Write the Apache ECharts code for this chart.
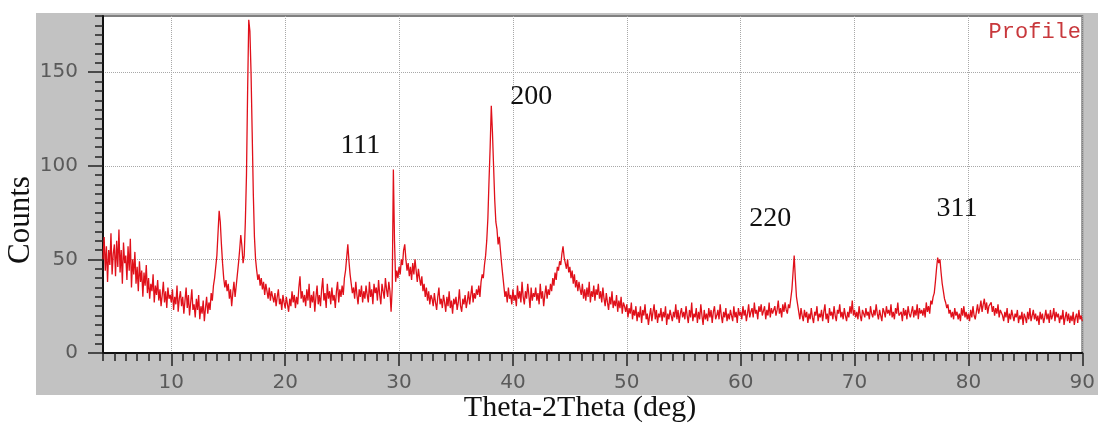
<!DOCTYPE html>
<html>
<head>
<meta charset="utf-8">
<script src="https://cdn.jsdelivr.net/npm/echarts@6/dist/echarts.min.js"></script>
<style>
  html, body { margin: 0; padding: 0; background: #fff; }
  #xrd { width: 1098px; height: 427px; }
</style>
</head>
<body>
<div id="xrd"></div>
<script>
// scan grid: 2theta from 4 to 90 deg, step 0.1
const angleStart = 4;
const angleStep = 0.1;
// counts, 10 points per degree
const counts = [
  50, 62, 44, 57, 38, 55, 47, 64, 42, 53,   // 4
  58, 41, 60, 46, 66, 43, 55, 37, 59, 48,   // 5
  52, 39, 57, 44, 61, 35, 50, 42, 54, 37,   // 6
  46, 33, 49, 38, 44, 30, 43, 36, 47, 32,   // 7
  40, 29, 37, 33, 42, 27, 36, 31, 39, 28,   // 8
  34, 25, 31, 38, 27, 33, 24, 35, 29, 31,   // 9
  27, 34, 23, 30, 26, 36, 22, 29, 33, 25,   // 10
  30, 21, 28, 35, 24, 31, 20, 27, 34, 23,   // 11
  26, 19, 29, 23, 31, 18, 25, 21, 28, 17,   // 12
  24, 30, 21, 27, 23, 32, 28, 36, 40, 46,   // 13
  52, 64, 76, 70, 58, 48, 40, 35, 39, 33,   // 14
  37, 29, 34, 25, 32, 38, 30, 36, 42, 48,   // 15
  55, 63, 57, 48, 52, 70, 95, 140, 178, 172, // 16
  150, 118, 85, 62, 50, 44, 39, 42, 36, 40, // 17
  34, 38, 31, 37, 33, 29, 35, 28, 33, 30,   // 18
  27, 32, 25, 30, 34, 26, 29, 23, 31, 27,   // 19
  24, 30, 26, 22, 29, 25, 33, 27, 31, 24,   // 20
  30, 26, 35, 41, 29, 33, 27, 31, 25, 34,   // 21
  28, 37, 24, 31, 27, 33, 22, 30, 36, 26,   // 22
  31, 25, 34, 40, 28, 32, 24, 37, 29, 33,   // 23
  26, 35, 28, 31, 24, 33, 38, 27, 34, 30,   // 24
  36, 31, 40, 44, 51, 58, 49, 42, 37, 32,   // 25
  35, 29, 38, 31, 26, 34, 30, 36, 27, 33,   // 26
  29, 36, 31, 27, 38, 30, 34, 26, 37, 32,   // 27
  35, 28, 39, 31, 26, 37, 33, 29, 40, 34,   // 28
  30, 38, 33, 22, 35, 98, 60, 38, 44, 40,   // 29
  46, 42, 50, 47, 55, 58, 50, 44, 48, 41,   // 30
  46, 39, 48, 42, 50, 44, 38, 45, 40, 36,   // 31
  41, 33, 37, 30, 35, 28, 33, 26, 31, 29,   // 32
  25, 32, 27, 23, 30, 35, 26, 29, 24, 31,   // 33
  27, 22, 30, 25, 33, 24, 28, 21, 29, 26,   // 34
  30, 23, 27, 34, 25, 22, 29, 26, 31, 24,   // 35
  28, 33, 26, 31, 36, 27, 32, 29, 34, 31,   // 36
  36, 30, 38, 42, 40, 47, 52, 60, 72, 92,   // 37
  110, 132, 118, 100, 82, 70, 66, 58, 62, 55, // 38
  48, 42, 36, 30, 33, 27, 35, 29, 31, 26,   // 39
  34, 28, 31, 25, 36, 29, 33, 27, 38, 30,   // 40
  26, 33, 29, 37, 31, 24, 35, 28, 32, 30,   // 41
  35, 28, 32, 26, 37, 29, 33, 25, 31, 36,   // 42
  29, 34, 31, 37, 33, 40, 36, 43, 39, 46,   // 43
  44, 49, 47, 53, 57, 51, 48, 45, 50, 43,   // 44
  46, 40, 44, 37, 42, 35, 39, 33, 38, 34,   // 45
  31, 37, 29, 34, 28, 35, 30, 38, 27, 33,   // 46
  30, 36, 28, 34, 31, 37, 29, 33, 27, 35,   // 47
  29, 25, 32, 27, 23, 30, 26, 33, 24, 28,   // 48
  25, 31, 22, 28, 24, 30, 21, 27, 25, 22,   // 49
  26, 19, 24, 21, 27, 18, 23, 20, 25, 17,   // 50
  22, 19, 25, 16, 23, 20, 26, 18, 21, 15,   // 51
  20, 24, 17, 22, 26, 18, 23, 16, 21, 19,   // 52
  24, 17, 22, 19, 25, 15, 21, 18, 23, 20,   // 53
  17, 22, 19, 26, 18, 23, 16, 21, 24, 19,   // 54
  22, 18, 25, 20, 16, 23, 19, 27, 17, 21,   // 55
  19, 24, 16, 22, 18, 26, 20, 15, 23, 18,   // 56
  21, 17, 24, 19, 23, 16, 22, 25, 18, 20,   // 57
  23, 18, 26, 20, 16, 22, 19, 24, 17, 21,   // 58
  18, 23, 20, 17, 25, 19, 22, 16, 24, 20,   // 59
  22, 18, 25, 20, 23, 17, 21, 26, 19, 22,   // 60
  24, 19, 27, 21, 23, 18, 25, 22, 26, 20,   // 61
  21, 25, 18, 23, 20, 27, 19, 24, 21, 22,   // 62
  25, 20, 23, 28, 21, 24, 19, 26, 22, 27,   // 63
  23, 21, 26, 24, 29, 34, 43, 52, 40, 30,   // 64
  26, 22, 18, 24, 20, 17, 23, 19, 22, 16,   // 65
  21, 18, 24, 19, 16, 22, 20, 25, 17, 21,   // 66
  19, 23, 17, 22, 26, 18, 21, 16, 24, 20,   // 67
  22, 18, 25, 20, 17, 23, 21, 26, 19, 22,   // 68
  18, 24, 20, 17, 22, 19, 25, 21, 28, 20,   // 69
  23, 19, 22, 18, 25, 20, 17, 23, 21, 19,   // 70
  24, 20, 22, 18, 25, 21, 19, 23, 20, 26,   // 71
  21, 18, 23, 20, 17, 24, 22, 19, 25, 21,   // 72
  23, 20, 26, 19, 22, 18, 24, 21, 27, 20,   // 73
  19, 22, 17, 24, 20, 23, 18, 25, 21, 19,   // 74
  22, 25, 19, 23, 20, 26, 18, 24, 21, 23,   // 75
  20, 24, 19, 27, 22, 25, 21, 28, 26, 30,   // 76
  32, 38, 45, 51, 48, 50, 43, 37, 33, 29,   // 77
  27, 24, 26, 21, 23, 19, 22, 18, 24, 20,   // 78
  22, 18, 21, 17, 24, 20, 25, 19, 22, 18,   // 79
  21, 17, 23, 19, 25, 20, 18, 22, 26, 21,   // 80
  24, 28, 22, 26, 29, 23, 27, 21, 25, 24,   // 81
  27, 22, 25, 20, 24, 21, 26, 19, 23, 22,   // 82
  20, 17, 22, 19, 24, 16, 21, 18, 23, 20,   // 83
  17, 21, 19, 23, 16, 20, 18, 22, 15, 21,   // 84
  19, 16, 22, 18, 24, 17, 20, 23, 18, 21,   // 85
  17, 20, 15, 22, 18, 21, 16, 19, 23, 18,   // 86
  21, 16, 23, 18, 20, 24, 17, 22, 19, 21,   // 87
  16, 20, 18, 23, 15, 19, 22, 17, 21, 16,   // 88
  20, 17, 22, 15, 19, 21, 16, 23, 18, 20,   // 89
  17                                        // 90
];

const xTicks = [10, 20, 30, 40, 50, 60, 70, 80, 90];
const yTicks = [0, 50, 100, 150];

// reflection labels (hkl) and where they sit in data units
const peakLabels = ['111', '200', '220', '311'];
const peakLabelAngles = [26.6, 41.6, 62.6, 79.0];
const peakLabelCounts = [111, 137, 72, 77];

const scan = counts.map((c, i) => [+(angleStart + i * angleStep).toFixed(1), c]);

const chart = echarts.init(document.getElementById('xrd'));
const option = {
  animation: false,
  backgroundColor: '#fff',
  grid: {
    left: 103, right: 10, top: 16, bottom: 74,
    show: true,
    backgroundColor: '#fff',
    borderColor: '#808080',
    borderWidth: 2
  },
  graphic: [
    { type: 'rect', z: -100, shape: { x: 36, y: 13, width: 1062, height: 382 }, style: { fill: '#c2c2c2' } },
    { type: 'text', x: 21, y: 220, rotation: Math.PI / 2,
      style: { text: 'Counts', font: '31px "Liberation Serif"', fill: '#111', align: 'center', verticalAlign: 'middle' } },
    { type: 'text', x: 580, y: 408,
      style: { text: 'Theta-2Theta (deg)', font: '30px "Liberation Serif"', fill: '#111', align: 'center', verticalAlign: 'middle' } },
    { type: 'text', x: 1081, y: 32,
      style: { text: 'Profile', font: '22px "Liberation Mono"', fill: '#c8383c', align: 'right', verticalAlign: 'middle' } }
  ],
  xAxis: [{
    type: 'value', min: 4, max: 90,
    axisLine: { lineStyle: { color: '#111', width: 2 } },
    axisTick: { customValues: xTicks, length: 13, lineStyle: { color: '#222', width: 1.5 } },
    axisLabel: { customValues: xTicks, margin: 20, fontSize: 20, fontFamily: 'DejaVu Sans', color: '#5a5a5a' },
    splitLine: { show: true, lineStyle: { color: '#a8a8a8', type: 'dotted', width: 1 } }
  }, {
    // minor ticks every degree
    type: 'value', min: 4, max: 90, interval: 1, position: 'bottom',
    axisLine: { show: false },
    axisTick: { length: 8, lineStyle: { color: '#222', width: 1.5 } },
    axisLabel: { show: false },
    splitLine: { show: false }
  }],
  yAxis: [{
    type: 'value', min: 0, max: 180,
    axisLine: { show: true, lineStyle: { color: '#111', width: 2 } },
    axisTick: { show: true, customValues: yTicks, length: 15, lineStyle: { color: '#222', width: 1.5 } },
    axisLabel: { customValues: yTicks, margin: 25, fontSize: 20, fontFamily: 'DejaVu Sans', color: '#5a5a5a' },
    splitLine: { show: true, lineStyle: { color: '#a8a8a8', type: 'dotted', width: 1 } }
  }, {
    // minor ticks every 5 counts
    type: 'value', min: 0, max: 180, interval: 5, position: 'left',
    axisLine: { show: false },
    axisTick: { show: true, length: 8, lineStyle: { color: '#222', width: 1.5 } },
    axisLabel: { show: false },
    splitLine: { show: false }
  }],
  series: [{
    name: 'Profile',
    type: 'line',
    data: scan,
    symbol: 'none',
    lineStyle: { color: '#e0101a', width: 1.3 },
    markPoint: {
      symbol: 'circle',
      symbolSize: 0,
      label: {
        show: true, position: 'inside',
        fontFamily: 'Liberation Serif', fontSize: 28, color: '#111',
        formatter: p => p.name
      },
      data: peakLabels.map((t, i) => ({ name: t, coord: [peakLabelAngles[i], peakLabelCounts[i]] }))
    }
  }]
};
chart.setOption(option);
</script>
</body>
</html>
